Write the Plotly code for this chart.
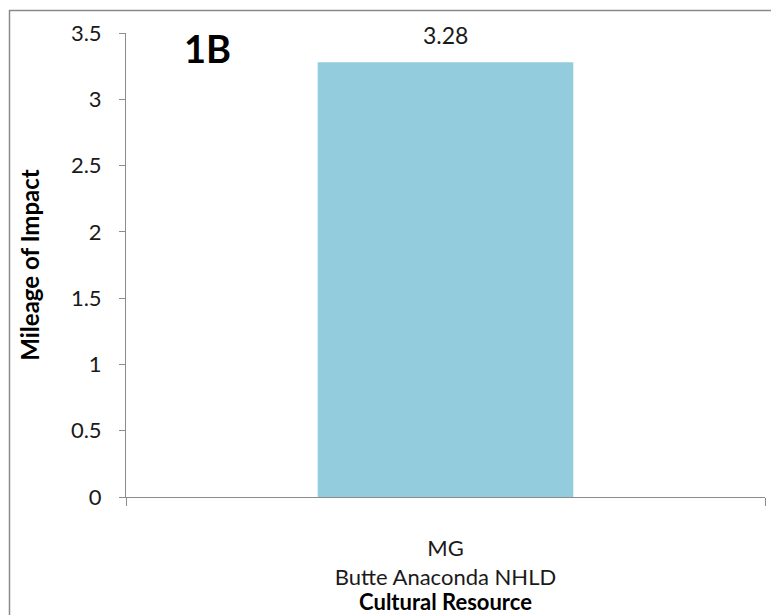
import plotly.graph_objects as go

# Impact mileage by cultural resource
categories = ["MG<br>Butte Anaconda NHLD"]
mileage = [3.28]
y_ticks = [0, 0.5, 1, 1.5, 2, 2.5, 3, 3.5]
y_tick_labels = ["0", "0.5", "1", "1.5", "2", "2.5", "3", "3.5"]

FONT = "Lato, Calibri, sans-serif"
AXIS_GREY = "#8C8C8C"
TXT = "#1a1a1a"

W, H = 771, 615
L, R, T, B = 126, 6, 33, 118
pw, ph = W - L - R, H - T - B

fig = go.Figure()
fig.add_trace(go.Bar(
    x=categories,
    y=mileage,
    width=0.4,
    marker=dict(color="#93CDDD", line=dict(width=0)),
    hoverinfo="x+y",
))

# value labels above bars
for cat, val in zip(categories, mileage):
    fig.add_annotation(
        x=cat, y=val, text=f"{val:.2f}", showarrow=False,
        yanchor="bottom", yshift=11,
        font=dict(family=FONT, size=23, color=TXT),
    )

# panel tag
fig.add_annotation(
    x=(207 - L) / pw, y=(H - B - 48) / ph, xref="paper", yref="paper",
    xanchor="center", yanchor="middle",
    text="<b>1B</b>", showarrow=False,
    font=dict(family=FONT, size=38, color="#000000"),
)

# chart-area frame
fig.add_shape(
    type="rect", xref="paper", yref="paper",
    x0=(9.5 - L) / pw, x1=(W + 5 - L) / pw,
    y0=(H - B - (H + 5)) / ph, y1=(H - B - 10.5) / ph,
    line=dict(color="#8A8A8A", width=1.5), fillcolor="rgba(0,0,0,0)",
    layer="below",
)

fig.update_layout(
    width=W, height=H,
    margin=dict(l=L, r=R, t=T, b=B),
    paper_bgcolor="white", plot_bgcolor="white",
    showlegend=False,
    font=dict(family=FONT, size=22, color=TXT),
    xaxis=dict(
        type="category",
        range=[-0.5, 0.5],
        showline=True, linecolor=AXIS_GREY, linewidth=1,
        ticks="outside", tickson="boundaries", ticklen=8,
        tickcolor=AXIS_GREY, tickwidth=1,
        showgrid=False, zeroline=False,
        ticklabelstandoff=32,
        tickfont=dict(family=FONT, size=22, color=TXT),
        title=dict(text="<b>Cultural Resource</b>", standoff=0,
                   font=dict(family=FONT, size=22, color="#000000")),
    ),
    yaxis=dict(
        range=[0, 3.5],
        tickvals=y_ticks, ticktext=y_tick_labels,
        showline=True, linecolor=AXIS_GREY, linewidth=1,
        ticks="outside", ticklen=6, tickcolor=AXIS_GREY, tickwidth=1,
        showgrid=False, zeroline=False,
        ticklabelstandoff=13,
        tickfont=dict(family=FONT, size=22, color=TXT),
        title=dict(text="<b>Mileage of Impact</b>", standoff=24,
                   font=dict(family=FONT, size=24, color="#000000")),
    ),
)

fig.write_html("out.html")
